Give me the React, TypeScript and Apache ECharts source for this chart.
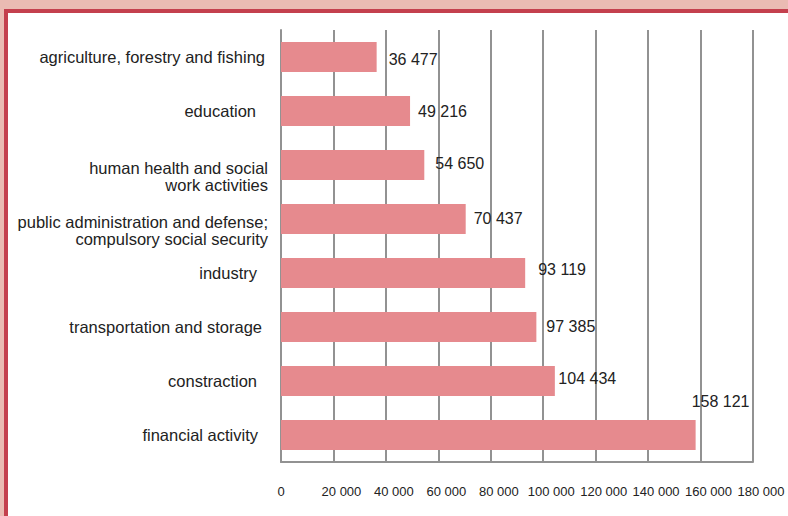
import React, { useEffect, useRef } from "react";
import * as echarts from "echarts";

const categories = [
  "agriculture, forestry and fishing",
  "education",
  "human health and social\nwork activities",
  "public administration and defense;\ncompulsory social security",
  "industry",
  "transportation and storage",
  "constraction",
  "financial activity",
];
const values = [36477, 49216, 54650, 70437, 93119, 97385, 104434, 158121];
const xMax = 180000;
const xInterval = 20000;

// label styling (positions of the texts only)
const catPadRight = [3, 12, 0, 0, 11, 6, 11, 10];
const valueLabelOffsets: [number, number][] = [
  [12, 2],
  [8, 0.5],
  [11, -2],
  [8, -1],
  [13, -4],
  [10, -1],
  [3.5, -3],
  [-4, -34],
];

const FONT = "'Liberation Sans', Arial, sans-serif";
const TEXT = "#222222";
const CAT_SIZE = 16.5;

const fmt = (v: number) => String(v).replace(/\B(?=(\d{3})+(?!\d))/g, " ");

export default function App() {
  const ref = useRef<HTMLDivElement>(null);
  useEffect(() => {
    document.body.style.margin = "0";
    if (!ref.current) return;
    const chart = echarts.init(ref.current, undefined, { renderer: "svg" });
    chart.setOption({
      animation: false,
      backgroundColor: "#ffffff",
      graphic: [
        { type: "rect", shape: { x: 0, y: 0, width: 788, height: 9 }, style: { fill: "#EABBB3" }, z: 100 },
        { type: "rect", shape: { x: 0, y: 0, width: 4, height: 516 }, style: { fill: "#EABBB3" }, z: 100 },
        { type: "rect", shape: { x: 4, y: 9, width: 784, height: 4 }, style: { fill: "#C4404E" }, z: 101 },
        { type: "rect", shape: { x: 4, y: 9, width: 4, height: 507 }, style: { fill: "#C4404E" }, z: 101 },
      ],
      grid: { left: 281, right: 35, top: 30, bottom: 54, containLabel: false },
      xAxis: {
        type: "value",
        min: 0,
        max: xMax,
        interval: xInterval,
        axisLine: { show: true, lineStyle: { color: "#929292", width: 2 } },
        axisTick: { show: false },
        splitLine: { show: true, lineStyle: { color: "#929292", width: 2 } },
        axisLabel: {
          margin: 23,
          fontFamily: FONT,
          fontSize: 13,
          color: TEXT,
          formatter: (v: number) => (v === 0 ? "{z|0}" : "{a|" + fmt(v) + "}"),
          rich: {
            z: { fontFamily: FONT, fontSize: 13, color: TEXT },
            a: { fontFamily: FONT, fontSize: 13, color: TEXT, padding: [0, 0, 0, 16] },
          },
        },
      },
      yAxis: {
        type: "category",
        inverse: true,
        data: categories.map((c, i) => ({
          value: c,
          textStyle: { padding: [0, catPadRight[i], 0, 0] },
        })),
        axisLine: { show: true, lineStyle: { color: "#929292", width: 2 } },
        axisTick: { show: false },
        splitLine: { show: false },
        axisLabel: {
          margin: 13,
          fontFamily: FONT,
          fontSize: CAT_SIZE,
          color: TEXT,
          align: "right",
          formatter: (value: string) => {
            const parts = value.split("\n");
            if (parts.length === 2) return "{t|" + parts[0] + "}\n{b|" + parts[1] + "}";
            return "{s|" + value + "}";
          },
          rich: {
            s: { fontFamily: FONT, fontSize: CAT_SIZE, color: TEXT },
            t: { fontFamily: FONT, fontSize: CAT_SIZE, color: TEXT, lineHeight: 39.5, verticalAlign: "bottom" },
            b: { fontFamily: FONT, fontSize: CAT_SIZE, color: TEXT, lineHeight: 17.5 },
          },
        },
      },
      series: [
        {
          type: "bar",
          data: values.map((v, i) => ({
            value: v,
            label: { offset: valueLabelOffsets[i] },
          })),
          barCategoryGap: "44%",
          itemStyle: { color: "#E68A8E" },
          label: {
            show: true,
            position: "right",
            distance: 0,
            fontFamily: FONT,
            fontSize: 16,
            color: TEXT,
            formatter: (p: any) => fmt(p.value),
          },
        },
      ],
    });
    return () => chart.dispose();
  }, []);
  return <div ref={ref} style={{ width: 788, height: 516 }} />;
}
